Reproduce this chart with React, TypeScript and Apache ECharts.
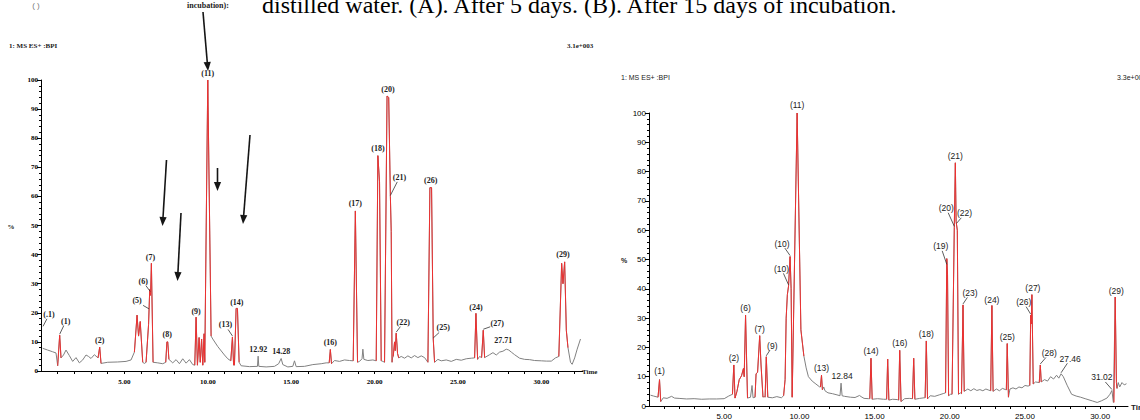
import React, { useEffect, useRef } from 'react';
import * as echarts from 'echarts';

type Pt = [number, number];

// ---------------- Chromatogram (A): after 5 days ----------------
const baseA: Pt[] = [
  [0.1, 7.8], [0.4, 7.2], [0.7, 6.6], [0.9, 6.2],
  [1.35, 5.5], [1.5, 7.2], [1.7, 5.3], [1.9, 3.3], [2.1, 4.6], [2.3, 2.8], [2.5, 3.8], [2.7, 5.5], [2.85, 5.0], [3.0, 4.3], [3.2, 5.6],
  [4.0, 3.0], [4.6, 3.1], [5.1, 3.3], [5.4, 3.8],
  [6.2, 2.6],
  [7.0, 2.8], [7.3, 2.5],
  [7.9, 2.8], [8.1, 3.9], [8.3, 2.5], [8.5, 4.2], [8.7, 2.7], [8.9, 3.9], [9.1, 2.2],
  [10.3, 11], [10.6, 8.4], [11.0, 5.5], [11.2, 4.2],
  [11.57, 2],
  [12.0, 1.8], [12.5, 1.5], [12.98, 1.6], [13.02, 5.1], [13.06, 1.6], [13.5, 1.4], [14.0, 1.6], [14.25, 2.5], [14.4, 4.3], [14.5, 2.2],
  [14.8, 1.4], [15.1, 1.6], [15.2, 3.5], [15.3, 1.5], [15.8, 1.6], [16.3, 2.2], [16.8, 2.5], [17.1, 2.8],
  [17.6, 3.6], [17.9, 3.3], [18.2, 3.8], [18.5, 3.6],
  [19.1, 3.3], [19.25, 4.2], [19.3, 7.5], [19.36, 4], [19.6, 3.6], [19.9, 3.8],
  [20.5, 3.3],
  [21.08, 4.5],
  [21.6, 5], [21.8, 4.4], [22.0, 5.2], [22.2, 4.5], [22.4, 5.3], [22.6, 4.6], [22.8, 5.2], [23.0, 4.6],
  [23.8, 4], [24.0, 3.5], [24.3, 3.8], [24.6, 3.3], [24.9, 4], [25.2, 3.7], [25.5, 4.2], [25.8, 4.4],
  [26.3, 5],
  [26.9, 5.6], [27.1, 6.3], [27.3, 5.5], [27.5, 6.5], [27.7, 6.8], [27.9, 7.5], [28.05, 7.2], [28.2, 6.5], [28.4, 5.6], [28.7, 4.4],
  [29.0, 4.0], [29.3, 3.9], [29.6, 3.6], [30.0, 3.5], [30.3, 3.4], [30.6, 3.4], [30.85, 4.5],
  [31.75, 3], [31.85, 2.3], [32.0, 4.5], [32.15, 7.5], [32.35, 11],
];

const peaksA: Pt[][] = [
  [[1.0, 1.8], [1.12, 12.3], [1.2, 4.5]],
  [[3.42, 4.5], [3.52, 8.2], [3.6, 2.6]],
  [[5.6, 6.5], [5.76, 19.2], [5.85, 12], [5.95, 17], [6.1, 3]],
  [[6.3, 3], [6.45, 16], [6.52, 28], [6.57, 26], [6.62, 37], [6.72, 3]],
  [[7.48, 3], [7.55, 10], [7.6, 10], [7.67, 4]],
  [[9.22, 2], [9.3, 18.5], [9.38, 2]],
  [[9.38, 2], [9.48, 11.5], [9.55, 3], [9.63, 11], [9.7, 2], [9.78, 12.8], [9.82, 3]],
  [[9.82, 3], [10.0, 100], [10.2, 12]],
  [[11.38, 3.5], [11.48, 11.7], [11.55, 2]],
  [[11.6, 2], [11.7, 21.5], [11.78, 21.5], [11.88, 3]],
  [[17.28, 2.8], [17.35, 7.4], [17.42, 2.5]],
  [[18.72, 3.5], [18.85, 55], [18.98, 3]],
  [[20.1, 3.5], [20.2, 74], [20.3, 65], [20.4, 3.5]],
  [[20.6, 3], [20.75, 94.5], [20.85, 94], [20.95, 60], [21.0, 48], [21.05, 3]],
  [[21.12, 5], [21.2, 10], [21.24, 7], [21.3, 13], [21.38, 6], [21.45, 4.5]],
  [[23.2, 3], [23.32, 63], [23.42, 63], [23.52, 11], [23.6, 3]],
  [[26.0, 4.5], [26.08, 19.8], [26.18, 4]],
  [[26.42, 4.6], [26.52, 14], [26.6, 4.6]],
  [[31.05, 5], [31.22, 37], [31.3, 30], [31.4, 37.5], [31.5, 14], [31.6, 8]],
];

const labelTextA = ['(.1)', '(1)', '(2)', '(5)', '(6)', '(7)', '(8)', '(9)', '(11)', '(13)', '(14)', '12.92', '14.28', '(16)', '(17)', '(18)', '(20)', '(21)', '(22)', '(26)', '(25)', '(24)', '(27)', '27.71', '(29)'];
const labelAnchorA: Pt[] = [
  [0.12, 15], [1.12, 12.3], [3.52, 8.2], [6.48, 21], [6.55, 27], [6.62, 37], [7.57, 10], [9.3, 18.5], [10.0, 100], [11.48, 11.7],
  [11.74, 21.5], [13.02, 5.1], [14.4, 4.3], [17.35, 7.4], [18.85, 55], [20.2, 74], [20.8, 94.5], [20.95, 60], [21.3, 13], [23.37, 63],
  [23.52, 11], [26.08, 19.8], [26.52, 14], [27.9, 7.5], [31.3, 37.5],
];

// ---------------- Chromatogram (B): after 15 days ----------------
const baseB: Pt[] = [
  [0.1, 3.7], [0.3, 3.4], [0.6, 3.0],
  [0.95, 2.8], [1.2, 2.6], [1.5, 3.3], [1.7, 2.7], [2.0, 2.6], [2.5, 2.4], [3.0, 2.5], [3.5, 2.3], [4.0, 2.4], [4.5, 2.4], [5.0, 2.5], [5.3, 3.4],
  [6.75, 3], [6.85, 7], [6.92, 2.8],
  [7.65, 3.3],
  [8.2, 2.8], [8.5, 3.2], [8.8, 2.8],
  [10.45, 13], [10.6, 10], [10.85, 8.5], [11.1, 7.5], [11.35, 6.5],
  [11.62, 6.5], [11.7, 5.2], [11.9, 4.5], [12.2, 4.2], [12.5, 3.8], [12.7, 3.5], [12.77, 7.8], [12.84, 3.5], [13.0, 3.3], [13.4, 3.0],
  [13.7, 2.9], [14.0, 3.6], [14.1, 3.2], [14.3, 2.6], [14.6, 2.5],
  [15.2, 2.5], [15.6, 2.3],
  [16.2, 2.3], [16.5, 2.2],
  [17.0, 2.5], [17.3, 2.6],
  [18.0, 2.6], [18.3, 2.8],
  [18.7, 3.5], [19.0, 3.3], [19.3, 3.8], [19.6, 4.3],
  [20.05, 4],
  [20.7, 4.5],
  [21.2, 5.8], [21.4, 5.2], [21.6, 5.9], [21.8, 5.3], [22.0, 5.6], [22.2, 5.2], [22.4, 5.8], [22.6, 5.4],
  [23.1, 5.8], [23.3, 5.2], [23.5, 6], [23.7, 5.6],
  [24.0, 5.8], [24.2, 6.2], [24.4, 5.8], [24.6, 6.5], [24.8, 6.2], [25.0, 7], [25.2, 6.8],
  [25.7, 8.2],
  [26.3, 9], [26.5, 8.5], [26.7, 10], [26.9, 9.2], [27.1, 10.5], [27.25, 9.5], [27.4, 11], [27.55, 10], [27.8, 7.1], [28.1, 4],
  [28.4, 3.4], [28.7, 3], [29.0, 2.5], [29.5, 1.7], [29.8, 1.2], [30.1, 1.8], [30.45, 2.7], [30.65, 4], [30.78, 5.3], [30.88, 1.2],
  [31.2, 8], [31.3, 6.5], [31.45, 8], [31.6, 7.2], [31.75, 7.6],
];

const peaksB: Pt[][] = [
  [[0.6, 3.0], [0.7, 9], [0.78, 1.5]],
  [[5.55, 4], [5.64, 14], [5.72, 2.7]],
  [[5.72, 2.7], [5.85, 5], [6.0, 9], [6.15, 10.3], [6.28, 12.8], [6.33, 10], [6.42, 31], [6.55, 2.7]],
  [[7.05, 3], [7.12, 11], [7.22, 11.5], [7.36, 24], [7.45, 14], [7.58, 3]],
  [[7.72, 3], [7.8, 16.8], [7.9, 3]],
  [[8.95, 3.5], [9.05, 9], [9.12, 30], [9.2, 38], [9.28, 41], [9.38, 51], [9.45, 40], [9.52, 3], [9.85, 100], [10.1, 26], [10.3, 17]],
  [[11.4, 6.5], [11.47, 10.5], [11.53, 5.5]],
  [[14.68, 2.5], [14.76, 16.3], [14.84, 2.3]],
  [[15.8, 2.3], [15.87, 16], [15.95, 2]],
  [[16.6, 2], [16.67, 19], [16.76, 1.5]],
  [[17.52, 2.5], [17.6, 16.3], [17.68, 2.3]],
  [[18.36, 2.8], [18.44, 22.2], [18.52, 2.4]],
  [[19.72, 4.5], [19.8, 50.3], [19.85, 45], [19.92, 3.5]],
  [[20.15, 4], [20.3, 61], [20.37, 83], [20.42, 63], [20.5, 60], [20.58, 4]],
  [[20.78, 4.2], [20.88, 34.5], [20.96, 5]],
  [[22.72, 5.2], [22.8, 34.3], [22.88, 5]],
  [[23.76, 5.5], [23.82, 21.3], [23.9, 3]],
  [[25.32, 7], [25.38, 31], [25.42, 28], [25.46, 38], [25.55, 7.5]],
  [[25.95, 8], [26.02, 14], [26.08, 8.2]],
  [[30.92, 1.2], [31.0, 37.2], [31.08, 8], [31.12, 6]],
];

const labelTextB = ['(1)', '(2)', '(6)', '(7)', '(9)', '(10)', '(10)', '(11)', '(13)', '12.84', '(14)', '(16)', '(18)', '(19)', '(20)', '(21)', '(22)', '(23)', '(24)', '(25)', '(26)', '(27)', '(28)', '27.46', '31.02', '(29)'];
const labelAnchorB: Pt[] = [
  [0.7, 9], [5.64, 14], [6.42, 31], [7.36, 24], [7.8, 16.8], [9.28, 41], [9.38, 51], [9.85, 100], [11.47, 10.5], [12.77, 7.8],
  [14.76, 16.3], [16.67, 19], [18.44, 22.2], [19.8, 48], [20.3, 61], [20.37, 83], [20.45, 62], [20.88, 34.5], [22.8, 34.3], [23.82, 21.3],
  [25.38, 31], [25.46, 38], [26.02, 14], [27.4, 11], [30.78, 5.3], [31.0, 37.2],
];

// ---------------- layout (pixel offsets of labels from their anchors; leader flag) ----------------
const labelLayoutA: [number, number, number][] = [
  [6, -13, 1], [6, -14, 1], [0, -7, 0], [-12, -9, 1], [-7, -11, 1], [-1, -6, 0], [0, -7, 0], [0, -6, 0], [0, -7, 0], [-7, -12, 1],
  [0, -6, 0], [0, -7, 0], [0, -7, 0], [0, -7, 0], [0, -7, 0], [0, -7, 0], [0, -7, 0], [9, -19, 1], [7, -11, 1], [0, -7, 0],
  [10, -11, 1], [0, -6, 0], [14, -7, 1], [-3, -9, 0], [0, -7, 0],
];
const labelLayoutB: [number, number, number][] = [
  [0, -9, 0], [0, -7, 0], [0, -7, 0], [0, -7, 0], [6, -11, 1], [-7, -17, 1], [-8, -13, 1], [0, -8, 0], [0, -7, 0], [1, -7, 0],
  [0, -7, 0], [0, -7, 0], [0, -7, 0], [-6, -19, 1], [-8, -19, 1], [0, -7, 0], [8, -11, 1], [7, -12, 1], [0, -6, 0], [0, -7, 0],
  [-7, -13, 1], [1, -7, 0], [9, -12, 1], [9, -15, 1], [-10, -13, 1], [1, -6, 0],
];
const arrowsA: [number, number, number, number][] = [
  [203, 12, 208, 71], [166.5, 160, 162.5, 226], [181, 213, 177.5, 281], [217.5, 168, 217.5, 191], [250, 135, 243, 224],
];

const SERIF = '"Liberation Serif", "Times New Roman", serif';
const SANS = '"Liberation Sans", Arial, sans-serif';
const GRAY = '#808080';
const RED = '#ee3030';

const mergeTrace = (base: Pt[], peaks: Pt[][]): Pt[] =>
  [...base, ...peaks.flat()].sort((a, b) => a[0] - b[0]);

function mkX(gridIndex: number, max: number, font: any, margin: number) {
  return {
    type: 'value', gridIndex, min: 0, max, interval: 1,
    axisLine: { show: true, onZero: false, lineStyle: { color: '#000', width: 1 } },
    axisTick: { show: true, length: 3, lineStyle: { color: '#000', width: 1 } },
    splitLine: { show: false },
    axisLabel: {
      margin, color: '#000', ...font,
      showMinLabel: false, showMaxLabel: false,
      formatter: (v: number) => (v > 0 && Math.abs(v % 5) < 1e-9 ? v.toFixed(2) : ''),
    },
  };
}
function mkY(gridIndex: number, font: any) {
  return {
    type: 'value', gridIndex, min: 0, max: 100, interval: 10,
    axisLine: { show: true, lineStyle: { color: '#000', width: 1 } },
    axisTick: { show: true, length: 4, lineStyle: { color: '#000', width: 1 } },
    minorTick: { show: true, splitNumber: 5, length: 2, lineStyle: { color: '#000', width: 1 } },
    splitLine: { show: false },
    minorSplitLine: { show: false },
    axisLabel: { margin: 3, color: '#000', ...font },
  };
}

function buildOption() {
  const lineSeries = (g: number, data: Pt[], color: string, z: number) => ({
    type: 'line', xAxisIndex: g, yAxisIndex: g, data, symbol: 'none', showSymbol: false,
    lineStyle: { color, width: 1 }, z, silent: true, clip: true,
  });
  return {
    animation: false,
    backgroundColor: '#ffffff',
    grid: [
      { left: 41, top: 80, width: 542, height: 291 },
      { left: 649, top: 113, width: 479, height: 293 },
    ],
    xAxis: [
      mkX(0, 32.5, { fontSize: 7, fontWeight: 'bold', fontFamily: SERIF }, 7),
      mkX(1, 31.85, { fontSize: 8, fontFamily: SANS }, 6),
    ],
    yAxis: [
      mkY(0, { fontSize: 7, fontWeight: 'bold', fontFamily: SERIF }),
      mkY(1, { fontSize: 8, fontFamily: SANS }),
    ],
    series: [
      lineSeries(0, mergeTrace(baseA, peaksA), GRAY, 2),
      ...peaksA.map((p) => lineSeries(0, p, RED, 3)),
      lineSeries(1, mergeTrace(baseB, peaksB), GRAY, 2),
      ...peaksB.map((p) => lineSeries(1, p, RED, 3)),
    ],
  };
}

function txt(text: string, x: number, y: number, font: string, fill = '#222', align = 'center', valign = 'middle') {
  return {
    type: 'text', x, y, silent: true, z: 10,
    style: { text, font, fill, align, verticalAlign: valign, textAlign: align, textVerticalAlign: valign },
  };
}
function seg(x1: number, y1: number, x2: number, y2: number, stroke = '#444', lineWidth = 0.8) {
  return { type: 'line', silent: true, z: 10, shape: { x1, y1, x2, y2 }, style: { stroke, lineWidth } };
}

function labelGraphics(chart: any, g: number, texts: string[], anchors: Pt[], layout: [number, number, number][], font: string) {
  const out: any[] = [];
  texts.forEach((t, i) => {
    const p = chart.convertToPixel({ gridIndex: g }, anchors[i]);
    const [dx, dy, leader] = layout[i];
    const cx = p[0] + dx;
    const cy = p[1] + dy;
    out.push(txt(t, cx, cy, font, '#222'));
    if (leader) {
      const vx = p[0] - cx;
      const vy = p[1] - cy;
      const hw = 7, hh = 4.5;
      const s = Math.min(vx !== 0 ? hw / Math.abs(vx) : 99, vy !== 0 ? hh / Math.abs(vy) : 99);
      out.push(seg(cx + vx * s, cy + vy * s, p[0], p[1] - 1, '#333', 0.8));
    }
  });
  return out;
}

function arrowGraphics(a: [number, number, number, number]) {
  const [x1, y1, x2, y2] = a;
  const len = Math.hypot(x2 - x1, y2 - y1);
  const ux = (x2 - x1) / len, uy = (y2 - y1) / len;
  const nx = -uy, ny = ux;
  const hl = 9, hw = 3.6;
  const bx = x2 - ux * hl, by = y2 - uy * hl;
  return [
    seg(x1, y1, bx, by, '#151515', 1.6),
    {
      type: 'polygon', silent: true, z: 11,
      shape: { points: [[x2, y2], [bx + nx * hw, by + ny * hw], [bx - nx * hw, by - ny * hw]] },
      style: { fill: '#151515' },
    },
  ];
}

function buildGraphics(chart: any) {
  const hdrA = 'bold 7px ' + SERIF;
  const hdrB = '7px ' + SANS;
  const els: any[] = [
    // caption (cut at the top of the picture, as in the reference)
    txt('distilled water. (A). After 5 days. (B). After 15 days of incubation.', 262, 4.5, '24px ' + SERIF, '#000', 'left'),
    txt('( )', 36, 5, '8px ' + SANS, '#777', 'center'),
    txt('incubation):', 208, 5, 'bold 8px ' + SERIF, '#222', 'center'),
    // chart A header / axis names
    txt('1: MS ES+ :BPI', 9, 46, hdrA, '#222', 'left'),
    txt('3.1e+003', 567, 46, hdrA, '#222', 'left'),
    txt('%', 11, 227, hdrA, '#222', 'center'),
    txt('Time', 582, 372, hdrA, '#222', 'left'),
    // chart B header / axis names
    txt('1: MS ES+ :BPI', 621, 77, hdrB, '#222', 'left'),
    txt('3.3e+003', 1117, 77, hdrB, '#222', 'left'),
    txt('%', 624, 260, 'bold 7px ' + SANS, '#222', 'center'),
    txt('Time', 1131, 407, 'bold 8px ' + SANS, '#222', 'left'),
  ];
  arrowsA.forEach((a) => els.push(...arrowGraphics(a)));
  els.push(...labelGraphics(chart, 0, labelTextA, labelAnchorA, labelLayoutA, 'bold 8px ' + SERIF));
  els.push(...labelGraphics(chart, 1, labelTextB, labelAnchorB, labelLayoutB, '8.5px ' + SANS));
  return els;
}

export default function App() {
  const ref = useRef<HTMLDivElement>(null);
  useEffect(() => {
    const el = ref.current;
    if (!el) return;
    const chart = echarts.init(el, null, { renderer: 'svg', width: 1140, height: 420 });
    chart.setOption(buildOption() as any);
    chart.setOption({ graphic: { elements: buildGraphics(chart) } } as any);
    return () => chart.dispose();
  }, []);
  return (
    <div
      ref={ref}
      style={{ position: 'fixed', left: 0, top: 0, width: 1140, height: 420, background: '#fff', overflow: 'hidden' }}
    />
  );
}
